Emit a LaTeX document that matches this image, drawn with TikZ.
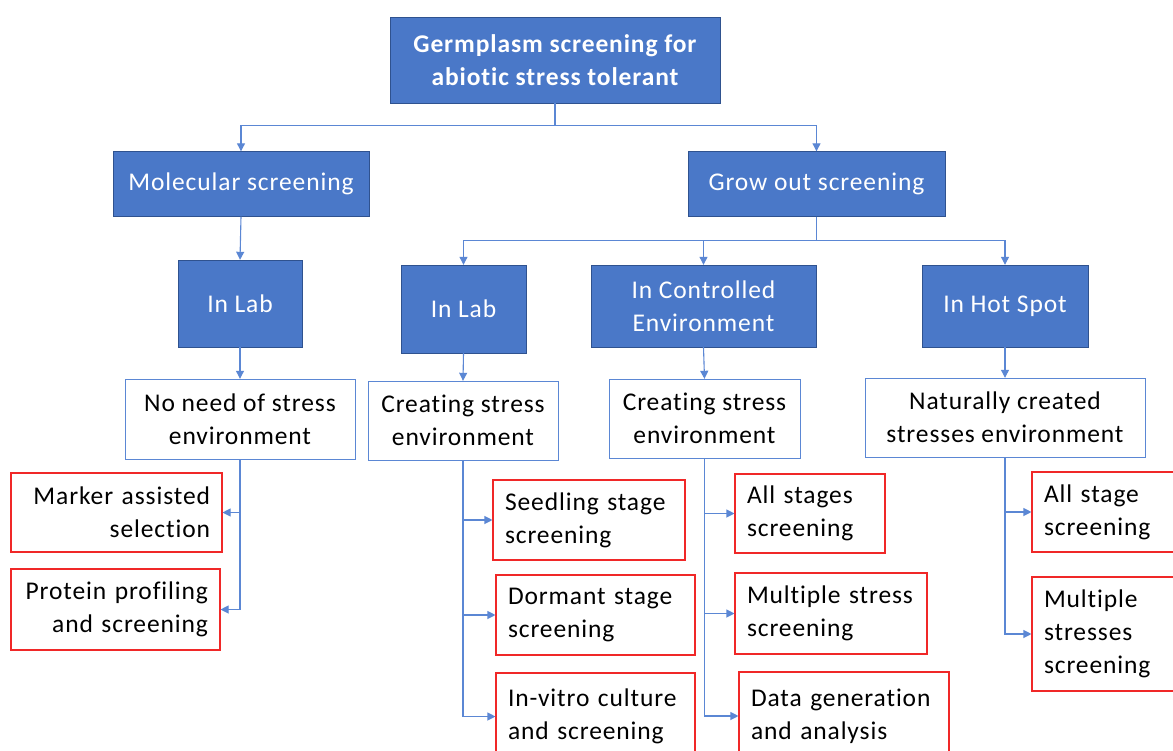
\documentclass[tikz,border=0pt]{standalone}
\usepackage{fontspec}
\setmainfont{Carlito}[LetterSpace=3.5, Ligatures=NoCommon]
\usetikzlibrary{arrows.meta}
\definecolor{boxblue}{HTML}{4A78C8}
\definecolor{boxedge}{HTML}{2F528F}
\definecolor{linkblue}{HTML}{5B87D4}
\definecolor{leafred}{HTML}{F02828}
\tikzset{
  bluebox/.style={draw=boxedge, fill=boxblue, text=white, align=center, inner sep=0pt},
  envbox/.style={draw=linkblue, fill=white, align=center, inner sep=0pt},
  leafbox/.style={draw=leafred, line width=1.1pt, fill=white, inner xsep=12pt, inner ysep=0pt},
  conn/.style={draw=linkblue, line width=1.1pt, -{Triangle[length=8pt,width=8pt]}}
}
\begin{document}
\begin{tikzpicture}[x=1pt, y=-1pt, font=\fontsize{25.5}{33}\selectfont]
\clip (0,0) rectangle (1173,750);
\fill[white] (0,0) rectangle (1173,750);
\node[bluebox, minimum width=330, minimum height=86, font=\fontsize{25.5}{33}\selectfont\bfseries] (root) at (555,60) {Germplasm screening for\\abiotic stress tolerant};
\node[bluebox, minimum width=256, minimum height=65] (mol) at (241,184) {Molecular screening};
\node[bluebox, minimum width=257, minimum height=65] (grow) at (816.5,184) {Grow out screening};
\node[bluebox, minimum width=124, minimum height=87] (lab1) at (240,303.5) {In Lab};
\node[bluebox, minimum width=125, minimum height=88] (lab2) at (463.5,309) {In Lab};
\node[bluebox, minimum width=225, minimum height=82] (ctrl) at (703.5,306) {In Controlled\\Environment};
\node[bluebox, minimum width=166, minimum height=82] (hot) at (1005,306) {In Hot Spot};
\node[envbox, minimum width=230, minimum height=80] (env1) at (240,419) {No need of stress\\environment};
\node[envbox, minimum width=190, minimum height=79] (env2) at (463,420.5) {Creating stress\\environment};
\node[envbox, minimum width=191, minimum height=79] (env3) at (704.5,418.5) {Creating stress\\environment};
\node[envbox, minimum width=280, minimum height=79] (env4) at (1005,417.5) {Naturally created\\stresses environment};
\node[leafbox, align=right, text width=187, minimum height=79] (mas) at (116.5,512.5) {Marker assisted\\selection};
\node[leafbox, align=right, text width=185, minimum height=81] (prot) at (115.5,609.5) {Protein profiling\\and screening};
\node[leafbox, align=left, text width=168, minimum height=80] (seed) at (589,520) {Seedling stage\\screening};
\node[leafbox, align=left, text width=175, minimum height=80] (dorm) at (595.5,615) {Dormant stage\\screening};
\node[leafbox, align=left, text width=175, minimum height=87] (vitro) at (595.5,716.5) {In-vitro culture\\and screening};
\node[leafbox, align=left, text width=126, minimum height=79] (alls) at (810,513.5) {All stages\\screening};
\node[leafbox, align=left, text width=168, minimum height=81] (mult) at (831,613.5) {Multiple stress\\screening};
\node[leafbox, align=left, text width=186, minimum height=88] (data) at (844,716) {Data generation\\and analysis};
\node[leafbox, align=left, text width=124, minimum height=80] (alls2) at (1106,512) {All stage\\screening};
\node[leafbox, align=left, text width=124, minimum height=114] (mult2) at (1106,634) {Multiple\\stresses\\screening};
\draw[conn] (root.south) -- ++(0,22) -| (mol.north);
\draw[conn] (root.south) -- ++(0,22) -| (grow.north);
\draw[conn] (mol.south) -- (lab1.north);
\draw[conn] (grow.south) -- ++(0,24) -| (lab2.north);
\draw[conn] (grow.south) -- ++(0,24) -| (ctrl.north);
\draw[conn] (grow.south) -- ++(0,24) -| (hot.north);
\draw[conn] (lab1.south) -- (env1.north);
\draw[conn] (lab2.south) -- (env2.north);
\draw[conn] (ctrl.south) -- (env3.north);
\draw[conn] (hot.south) -- (env4.north);
\draw[conn] (env1.south) |- (mas.east);
\draw[conn] (env1.south) |- (prot.east);
\draw[conn] (env2.south) |- (seed.west);
\draw[conn] (env2.south) |- (dorm.west);
\draw[conn] (env2.south) |- (vitro.west);
\draw[conn] (env3.south) |- (alls.west);
\draw[conn] (env3.south) |- (mult.west);
\draw[conn] (env3.south) |- (data.west);
\draw[conn] (env4.south) |- (alls2.west);
\draw[conn] (env4.south) |- (mult2.west);
\end{tikzpicture}
\end{document}
